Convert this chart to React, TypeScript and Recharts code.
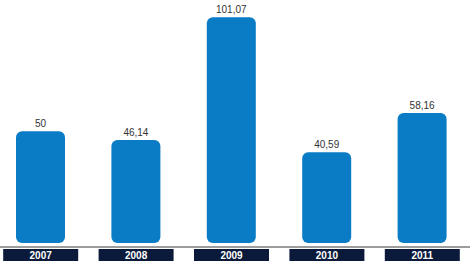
import React from 'react';
import { BarChart, Bar, XAxis, YAxis, LabelList } from 'recharts';

const years = ['2007', '2008', '2009', '2010', '2011'];
const values = [50, 46.14, 101.07, 40.59, 58.16];
const valueLabels = ['50', '46,14', '101,07', '40,59', '58,16'];

const data = years.map((y, i) => ({ year: y, value: values[i], label: valueLabels[i] }));

const BAR_COLOR = '#0a7cc6';
const NAVY = '#0b1a3b';

const RoundedBar = (props: any) => {
  const { x, y, width, height } = props;
  if (!height || height <= 0) return null;
  const r = 6;
  return <rect x={x} y={y} width={width} height={height} rx={r} ry={r} fill={BAR_COLOR} />;
};

const YearTick = (props: any) => {
  const { x, y, payload } = props;
  const w = 75;
  const h = 12;
  return (
    <g>
      <rect x={x - w / 2} y={y} width={w} height={h} fill={NAVY} />
      <text
        x={x}
        y={y + 10}
        textAnchor="middle"
        fill="#ffffff"
        fontSize={10}
        fontWeight="bold"
        fontFamily="'Liberation Sans Narrow', 'Arial Narrow', 'Liberation Sans', Arial, sans-serif"
      >
        {payload.value}
      </text>
    </g>
  );
};

export default function App() {
  return (
    <div style={{ position: 'absolute', left: -7, top: 0, width: 477, height: 264, background: '#fff' }}>
      <BarChart width={477} height={264} data={data} margin={{ top: 0, right: 0, bottom: 0, left: 0 }} barSize={49}>
        <YAxis hide domain={[-1.8, 108.8]} />
        <XAxis
          dataKey="year"
          axisLine={{ stroke: '#3a3a3a', strokeWidth: 1 }}
          tickLine={false}
          tickSize={2}
          tickMargin={0}
          height={17}
          interval={0}
          tick={<YearTick />}
        />
        <Bar dataKey="value" isAnimationActive={false} shape={<RoundedBar />}>
          <LabelList
            dataKey="label"
            position="top"
            offset={4}
            fill="#333333"
            fontSize={10}
            fontFamily="'Liberation Sans', Arial, sans-serif"
          />
        </Bar>
      </BarChart>
    </div>
  );
}
